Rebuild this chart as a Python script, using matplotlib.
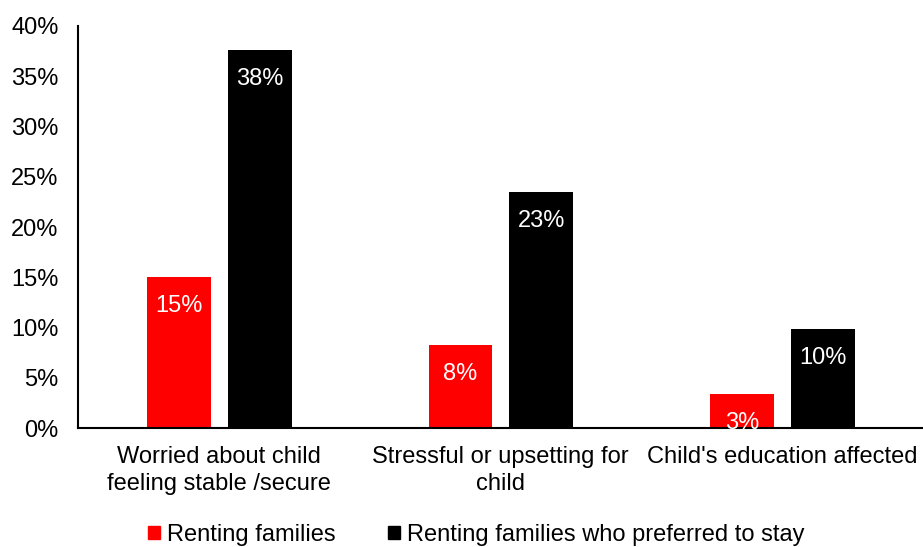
import numpy as np
import matplotlib.pyplot as plt
from matplotlib.patches import Patch
from matplotlib.ticker import PercentFormatter

plt.rcParams['font.family'] = ['Liberation Sans', 'DejaVu Sans']

categories = ['Worried about child\nfeeling stable /secure',
              'Stressful or upsetting for\nchild',
              "Child's education affected"]
renting = [15.0, 8.3, 3.4]
preferred_stay = [37.6, 23.5, 9.9]
renting_labels = ['15%', '8%', '3%']
preferred_labels = ['38%', '23%', '10%']

fs = 17

fig = plt.figure(figsize=(9.23, 5.47), dpi=100)
ax = fig.add_axes([0.0845, 0.2175, 0.9155, 0.735])

x = np.arange(len(categories))
w = 0.227
b1 = ax.bar(x - 0.142, renting, w, color='#ff0000', label='Renting families')
b2 = ax.bar(x + 0.145, preferred_stay, w, color='black',
            label='Renting families who preferred to stay')

for bars, labels in [(b1, renting_labels), (b2, preferred_labels)]:
    for bar, lab in zip(bars, labels):
        ax.annotate(lab, (bar.get_x() + bar.get_width() / 2, bar.get_height()),
                    xytext=(0, -21), textcoords='offset points',
                    ha='center', va='center', color='white', fontsize=fs)

ax.set_xlim(-0.5, 2.5)
ax.set_ylim(0, 40)
ax.set_yticks(np.arange(0, 41, 5))
ax.yaxis.set_major_formatter(PercentFormatter(decimals=0))
ax.set_xticks(x)
ax.set_xticklabels(categories, fontsize=fs, linespacing=1.3)
ax.tick_params(axis='both', length=0, labelsize=fs)
ax.tick_params(axis='x', pad=13)
ax.tick_params(axis='y', pad=14)
for s in ['top', 'right']:
    ax.spines[s].set_visible(False)
ax.spines['left'].set_linewidth(1.5)
ax.spines['bottom'].set_linewidth(1.5)

handles = [Patch(color='#ff0000'), Patch(color='black')]
fig.legend(handles, ['Renting families', 'Renting families who preferred to stay'],
           loc='center', bbox_to_anchor=(0.516, 0.022), ncol=2, frameon=False,
           fontsize=fs, handlelength=0.5, handleheight=0.5, handletextpad=0.3,
           columnspacing=2.2)

fig.savefig('out.png', dpi=100)
